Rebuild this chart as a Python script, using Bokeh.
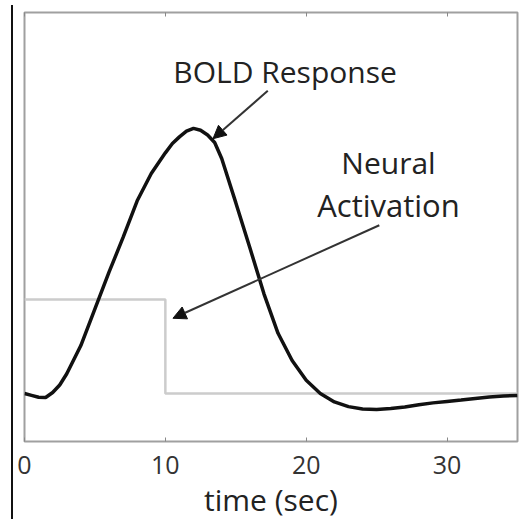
from bokeh.plotting import figure
from bokeh.models import Label, Arrow, NormalHead, LinearAxis, FixedTicker, Range1d, Div
from bokeh.layouts import row
from bokeh.embed import file_html
from bokeh.resources import INLINE

# Data
time_s = [0, 0.5, 1, 1.5, 2, 2.5, 3, 4, 5, 6, 7, 8, 9, 10, 10.5, 11, 11.5, 12, 12.5, 13, 13.5,
          14, 15, 16, 17, 18, 19, 20, 21, 22, 23, 24, 25, 26, 27, 28, 29, 30, 31, 32, 33, 34, 35]
bold = [0.0, -0.02, -0.04, -0.043, 0.01, 0.09, 0.21, 0.51, 0.90, 1.29, 1.66, 2.05, 2.34, 2.56, 2.66,
        2.73, 2.79, 2.82, 2.80, 2.75, 2.67,
        2.50, 2.03, 1.55, 1.06, 0.64, 0.35, 0.14, 0.0, -0.09, -0.14, -0.165, -0.17, -0.16, -0.145,
        -0.12, -0.10, -0.085, -0.07, -0.053, -0.037, -0.027, -0.021]
neural_t = [0, 10, 35]
neural_v = [1, 0, 0]
x_ticks = [0, 10, 20, 30]

FONT = "Open Sans"

p = figure(frame_width=493, frame_height=429, output_backend="svg", toolbar_location=None,
           x_range=Range1d(0, 35), y_range=Range1d(-0.511, 4.053),
           min_border_left=8, min_border_right=2, min_border_top=12, min_border_bottom=78,
           margin=0)
p.background_fill_color = "white"
p.border_fill_color = "white"
p.grid.visible = False
p.yaxis.visible = False
p.outline_line_color = "#a0a0a0"
p.outline_line_width = 2

xa = p.xaxis[0]
xa.ticker = FixedTicker(ticks=x_ticks)
xa.axis_line_color = None
xa.major_tick_in = 4
xa.major_tick_out = 0
xa.major_tick_line_color = "#888888"
xa.minor_tick_line_color = None
xa.major_label_text_font = FONT
xa.major_label_text_font_size = "25px"
xa.major_label_text_color = "#333333"
xa.major_label_standoff = 14
xa.axis_label = "time (sec)"
xa.axis_label_text_font = FONT
xa.axis_label_text_font_size = "30px"
xa.axis_label_text_font_style = "normal"
xa.axis_label_text_color = "#222222"
xa.axis_label_standoff = 2

top = LinearAxis(ticker=FixedTicker(ticks=x_ticks), axis_line_color=None, major_tick_in=4,
                 major_tick_out=0, major_tick_line_color="#888888", minor_tick_line_color=None,
                 major_label_text_font_size="1px", major_label_text_color=None,
                 major_label_standoff=0)
p.add_layout(top, "above")

p.step(neural_t, neural_v, mode="after", line_color="#cccccc", line_width=2.5)
p.line(time_s, bold, line_color="#111111", line_width=3.5)

# annotations
p.add_layout(Label(x=18.5, y=3.42, text="BOLD Response", text_align="center",
                   text_baseline="alphabetic", text_font=FONT, text_font_size="30px",
                   text_color="#222222"))
p.add_layout(Label(x=25.84, y=2.46, text="Neural", text_align="center",
                   text_baseline="alphabetic", text_font=FONT, text_font_size="30px",
                   text_color="#222222"))
p.add_layout(Label(x=25.84, y=2.01, text="Activation", text_align="center",
                   text_baseline="alphabetic", text_font=FONT, text_font_size="31px",
                   text_color="#222222"))

p.add_layout(Arrow(x_start=17.27, y_start=3.22, x_end=13.38, y_end=2.71, line_color="#333333",
                   line_width=2, end=NormalHead(size=13, fill_color="#111111", line_color="#111111")))
p.add_layout(Arrow(x_start=25.19, y_start=1.79, x_end=10.54, y_end=0.80, line_color="#333333",
                   line_width=2, end=NormalHead(size=13, fill_color="#111111", line_color="#111111")))

bar = Div(text='<div style="width:2px;height:514px;background:#111111;margin-left:11px;margin-top:5px"></div>',
          width=16, height=519, margin=0)

layout = row(bar, p)
open("out.html", "w").write(file_html(layout, INLINE))
